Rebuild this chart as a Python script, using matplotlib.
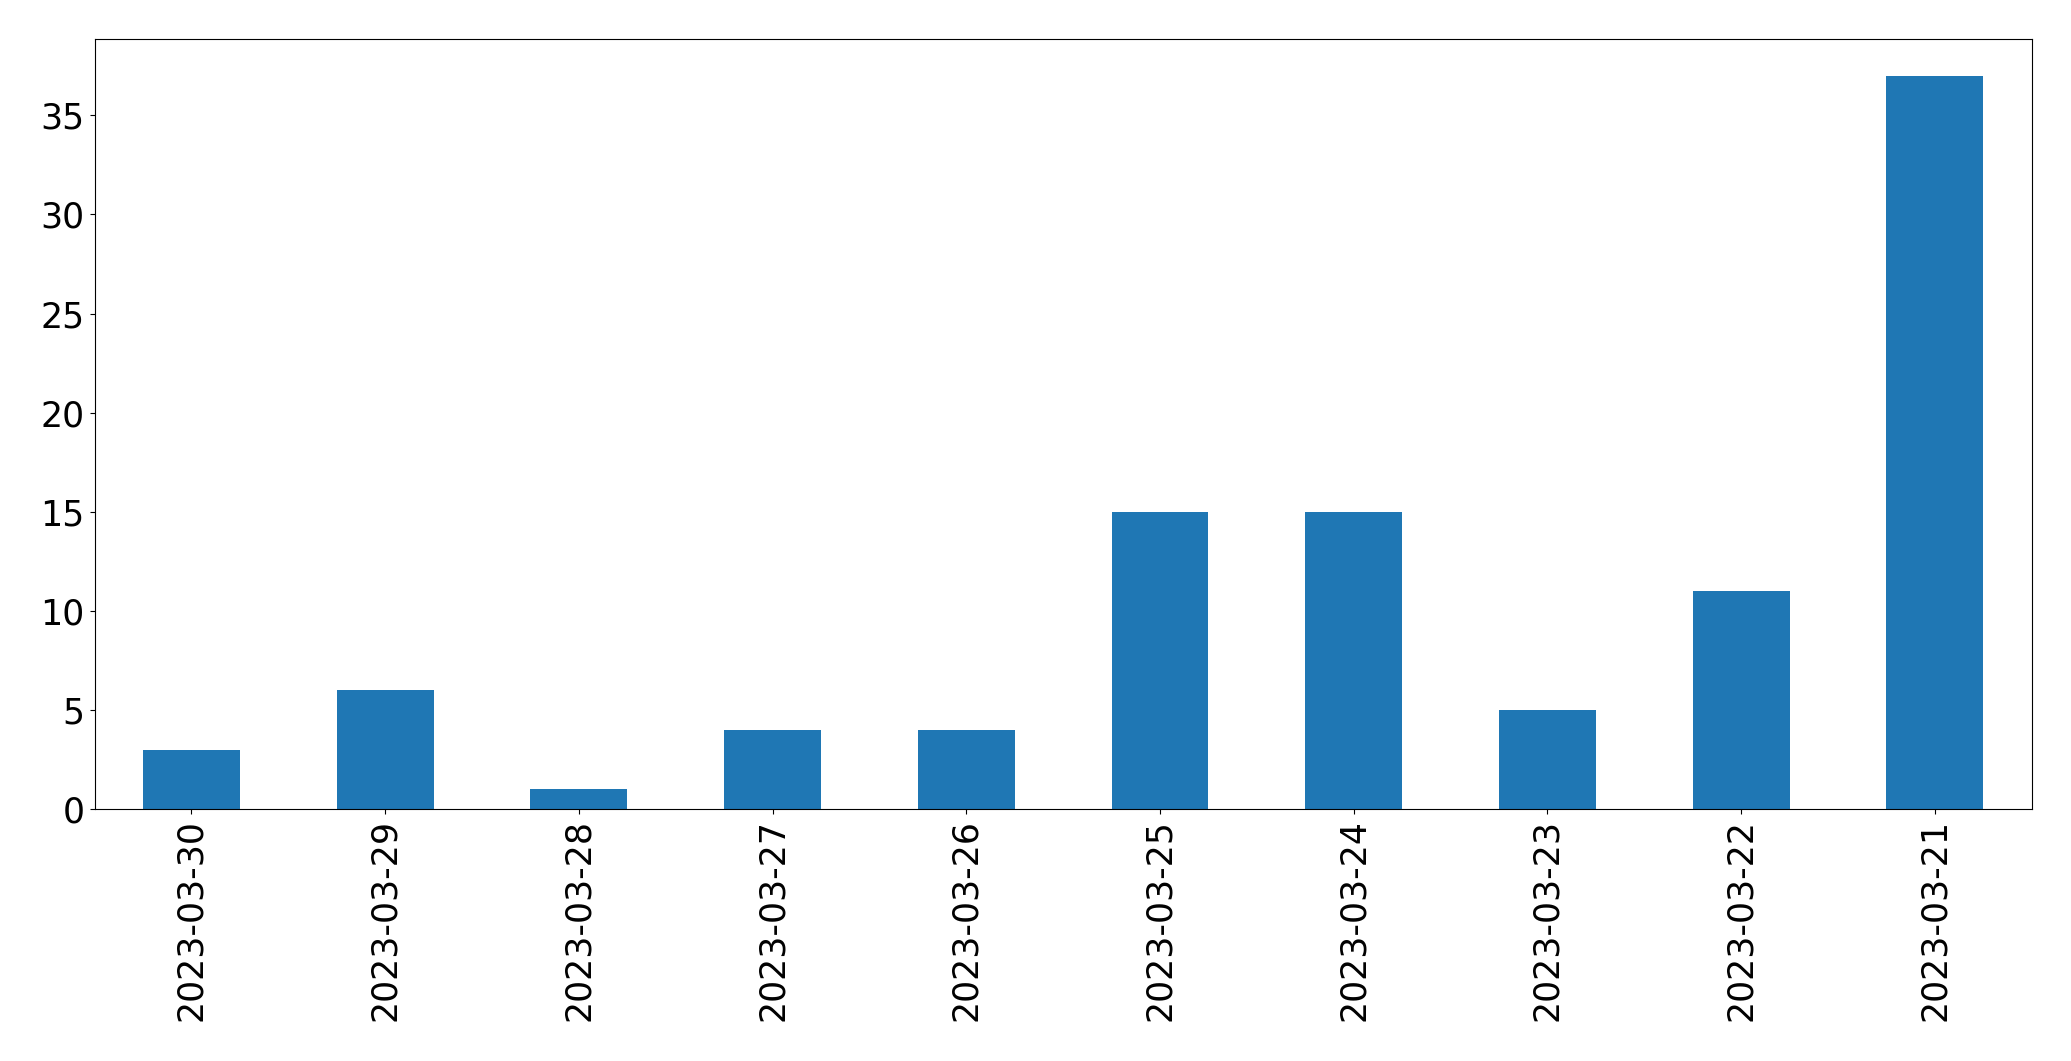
import matplotlib
matplotlib.use("Agg")
import matplotlib.pyplot as plt
import numpy as np

# Counts per day (newest first, as in the original)
dates = ["2023-03-30", "2023-03-29", "2023-03-28", "2023-03-27", "2023-03-26",
         "2023-03-25", "2023-03-24", "2023-03-23", "2023-03-22", "2023-03-21"]
counts = [3, 6, 1, 4, 4, 15, 15, 5, 11, 37]

fig = plt.figure(figsize=(20.71, 10.61), dpi=100)
ax = fig.add_axes([94.5 / 2071, 1 - 809 / 1061, (2031.7 - 94.5) / 2071, (809 - 39) / 1061])

x = np.arange(len(dates))
ax.bar(x, counts, width=0.5, color="#1f77b4")
ax.set_xlim(-0.5, len(dates) - 0.5)
ax.set_xticks(x)
ax.set_xticklabels(dates, rotation=90)
ax.tick_params(labelsize=25)

fig.savefig("out.png", dpi=100)
